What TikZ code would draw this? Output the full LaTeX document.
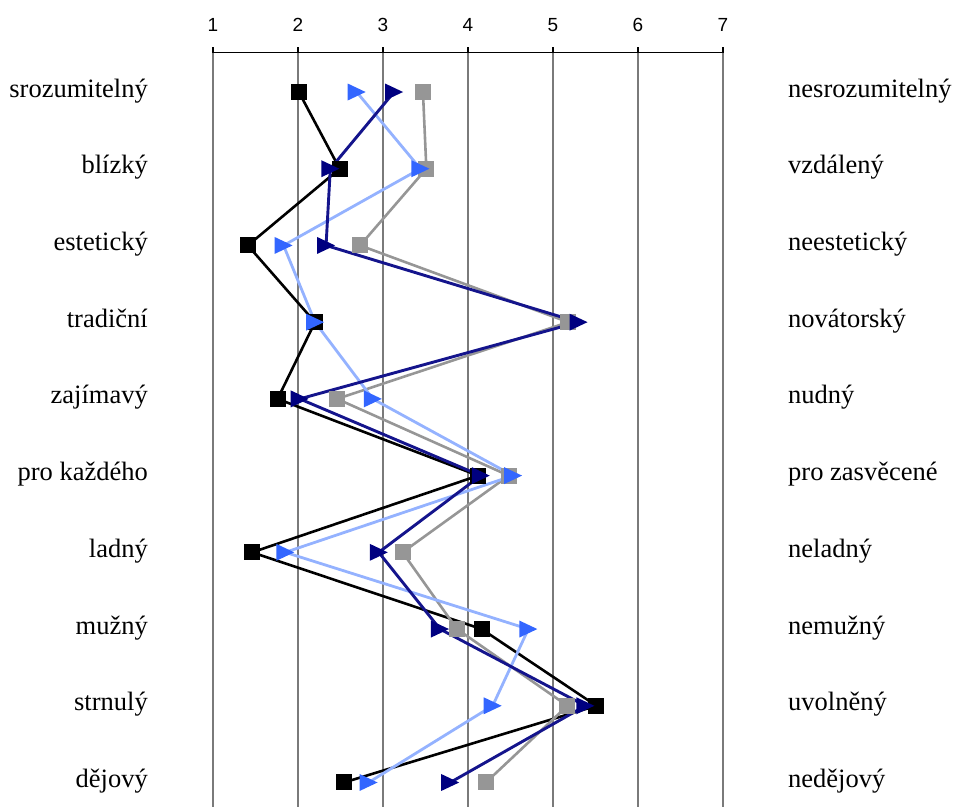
\documentclass[tikz,border=0pt]{standalone}
\usepackage{fontspec}
\setmainfont{Liberation Serif}
\newfontfamily\axisfont{Liberation Sans}
\definecolor{navyc}{HTML}{000080}
\definecolor{navylinec}{HTML}{14148C}
\definecolor{lblue}{HTML}{3366FF}
\definecolor{lblinec}{HTML}{94B2FF}
\definecolor{grayc}{HTML}{969696}
\definecolor{gridc}{HTML}{7A7A7A}
\tikzset{
  sq/.pic={\fill (-8,-8) rectangle (8,8);},
  tri/.pic={\fill (-9,-8.5) -- (9,0) -- (-9,8.5) -- cycle;},
  lbl/.style={font=\fontsize{26.5}{30}\selectfont, inner sep=0pt},
  axnum/.style={font=\axisfont\fontsize{19}{21}\selectfont, inner sep=0pt, anchor=base},
  gridline/.style={gridc, line width=1.1pt},
  blackstroke/.style={black, line width=2.6pt, line join=round},
  graystroke/.style={grayc, line width=2.6pt, line join=round},
  lbstroke/.style={lblinec, line width=2.8pt, line join=round},
  navystroke/.style={navylinec, line width=2.9pt, line join=round},
}
\begin{document}
\begin{tikzpicture}[x=1pt,y=-1pt]
\useasboundingbox (0,0) rectangle (957,807);
% axis
\foreach \v in {1,...,7} {
  \coordinate (gt\v) at ({213+85*(\v-1)},52.7);
  \coordinate (gb\v) at ({213+85*(\v-1)},807);
  \draw[gridline] (gt\v) -- (gb\v);
  \draw[black, line width=1.1pt] (gt\v) -- ++(0,-6);
  \node[axnum] (ax\v) at ({213+85*(\v-1)},31) {\v};
}
\draw[black, line width=1.3pt] (gt1) -- (gt7);
% data
\foreach \v [count=\i] in {2.01,2.49,1.41,2.20,1.76,4.12,1.46,4.16,5.51,2.54}
  \coordinate (b\i) at ({213+85*(\v-1)},{92+76.72*(\i-1)});
\foreach \v [count=\i] in {3.47,3.51,2.73,5.18,2.46,4.48,3.23,3.87,5.17,4.21}
  \coordinate (g\i) at ({213+85*(\v-1)},{92+76.72*(\i-1)});
\foreach \v [count=\i] in {2.69,3.44,1.83,2.20,2.88,4.53,1.85,4.71,4.29,2.83}
  \coordinate (l\i) at ({213+85*(\v-1)},{92+76.72*(\i-1)});
\foreach \v [count=\i] in {3.13,2.38,2.33,5.30,2.02,4.15,2.95,3.67,5.38,3.79}
  \coordinate (n\i) at ({213+85*(\v-1)},{92+76.72*(\i-1)});
% lines
\foreach \s/\st in {b/blackstroke,g/graystroke,l/lbstroke,n/navystroke} {
  \draw[\st] (\s1) -- (\s2) -- (\s3) -- (\s4) -- (\s5) -- (\s6) -- (\s7) -- (\s8) -- (\s9) -- (\s10);
}
% markers
\foreach \i in {1,...,10} {
  \pic[black] at (b\i) {sq};
}
\foreach \i in {1,...,10} {
  \pic[grayc] at (g\i) {sq};
}
\foreach \i in {1,...,10} {
  \pic[lblue] at (l\i) {tri};
}
\foreach \i in {1,...,10} {
  \pic[navyc] at (n\i) {tri};
}
% labels
\foreach \a/\b [count=\i] in {srozumitelný/nesrozumitelný, blízký/vzdálený, estetický/neestetický, tradiční/novátorský, zajímavý/nudný, pro každého/pro zasvěcené, ladný/neladný, mužný/nemužný, strnulý/uvolněný, dějový/nedějový} {
  \node[lbl, anchor=base east] (left\i) at (148,{97+76.72*(\i-1)}) {\a};
  \node[lbl, anchor=base west] (right\i) at (788,{97+76.72*(\i-1)}) {\b};
}
\end{tikzpicture}
\end{document}
